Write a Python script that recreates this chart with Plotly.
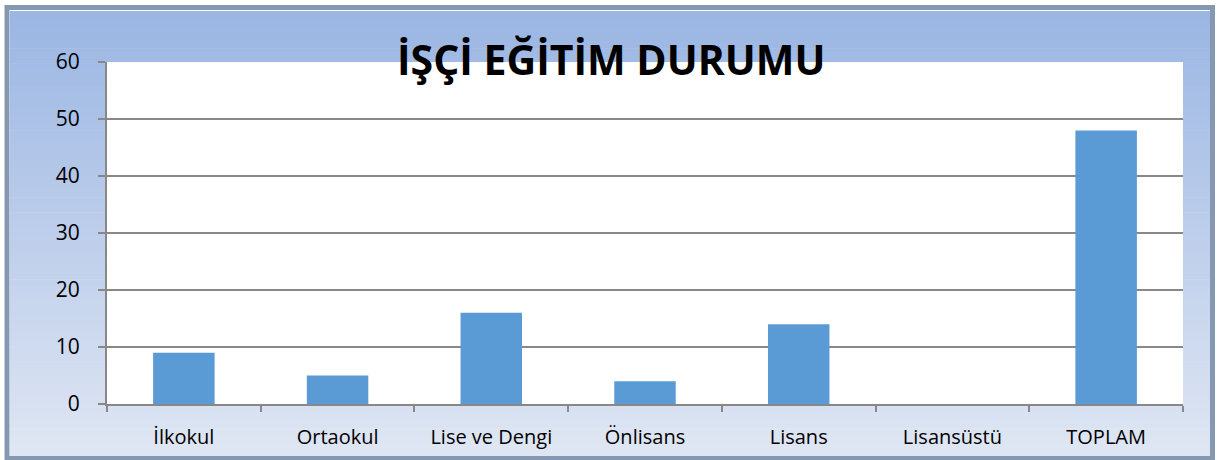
import plotly.graph_objects as go

categories = ["İlkokul", "Ortaokul", "Lise ve Dengi", "Önlisans", "Lisans", "Lisansüstü", "TOPLAM"]
values = [9, 5, 16, 4, 14, 0, 48]
title_text = "İŞÇİ EĞİTİM DURUMU"

W, H = 1221, 460
L, R, T, B = 107, 38, 62, 56
PW = W - L - R
PH = H - T - B


def px(x):
    return (x - L) / PW


def py(y):
    return (H - B - y) / PH


fig = go.Figure(go.Bar(x=categories, y=values, marker=dict(color="#5B9BD5", line=dict(width=0))))

shapes = []
top_c = (155, 182, 227)
bot_c = (223, 230, 243)
n = 60
y0p, y1p = 11, 458
for i in range(n):
    t = i / (n - 1)
    c = tuple(int(round(top_c[k] + (bot_c[k] - top_c[k]) * t)) for k in range(3))
    ya = y0p + (y1p - y0p) * i / n
    yb = y0p + (y1p - y0p) * (i + 1) / n + 0.6
    shapes.append(dict(type="rect", xref="paper", yref="paper",
                       x0=px(10), x1=px(1210), y0=py(yb), y1=py(ya),
                       fillcolor="rgb(%d,%d,%d)" % c, line=dict(width=0), layer="below"))
shapes.append(dict(type="rect", xref="paper", yref="paper",
                   x0=px(7), x1=px(1212.5), y0=py(458.5), y1=py(7.5),
                   fillcolor="rgba(0,0,0,0)", line=dict(color="#8598B2", width=5), layer="below"))
shapes.append(dict(type="rect", xref="paper", yref="paper", x0=0, x1=1, y0=0, y1=1,
                   fillcolor="white", line=dict(width=0), layer="below"))

fig.update_layout(
    width=W, height=H,
    margin=dict(l=L, r=R, t=T, b=B, autoexpand=False),
    paper_bgcolor="rgba(0,0,0,0)",
    plot_bgcolor="rgba(0,0,0,0)",
    bargap=0.6,
    shapes=shapes,
    showlegend=False,
    font=dict(family="Open Sans", color="black"),
    annotations=[dict(text="<b>%s</b>" % title_text, xref="paper", yref="paper",
                      x=px(611), y=py(59), xanchor="center", yanchor="middle",
                      showarrow=False, font=dict(size=41, family="Open Sans", color="black"))],
)
fig.update_yaxes(range=[0, 60], dtick=10, showgrid=True, gridcolor="#888888", gridwidth=1.5,
                 showline=True, linecolor="#888888", linewidth=2, ticks="outside", ticklen=7,
                 tickcolor="#888888", tickwidth=2, tickfont=dict(size=21), zeroline=False,
                 ticklabelstandoff=14, automargin=False)
fig.update_xaxes(showline=True, linecolor="#888888", linewidth=2, ticks="outside", ticklen=6,
                 tickson="boundaries", tickcolor="#888888", tickwidth=2, tickfont=dict(size=20),
                 showgrid=False, ticklabelstandoff=14, automargin=False)

fig.write_html("out.html", config={"displayModeBar": False},
               post_script="document.body.style.margin='0';document.body.style.overflow='hidden';")
